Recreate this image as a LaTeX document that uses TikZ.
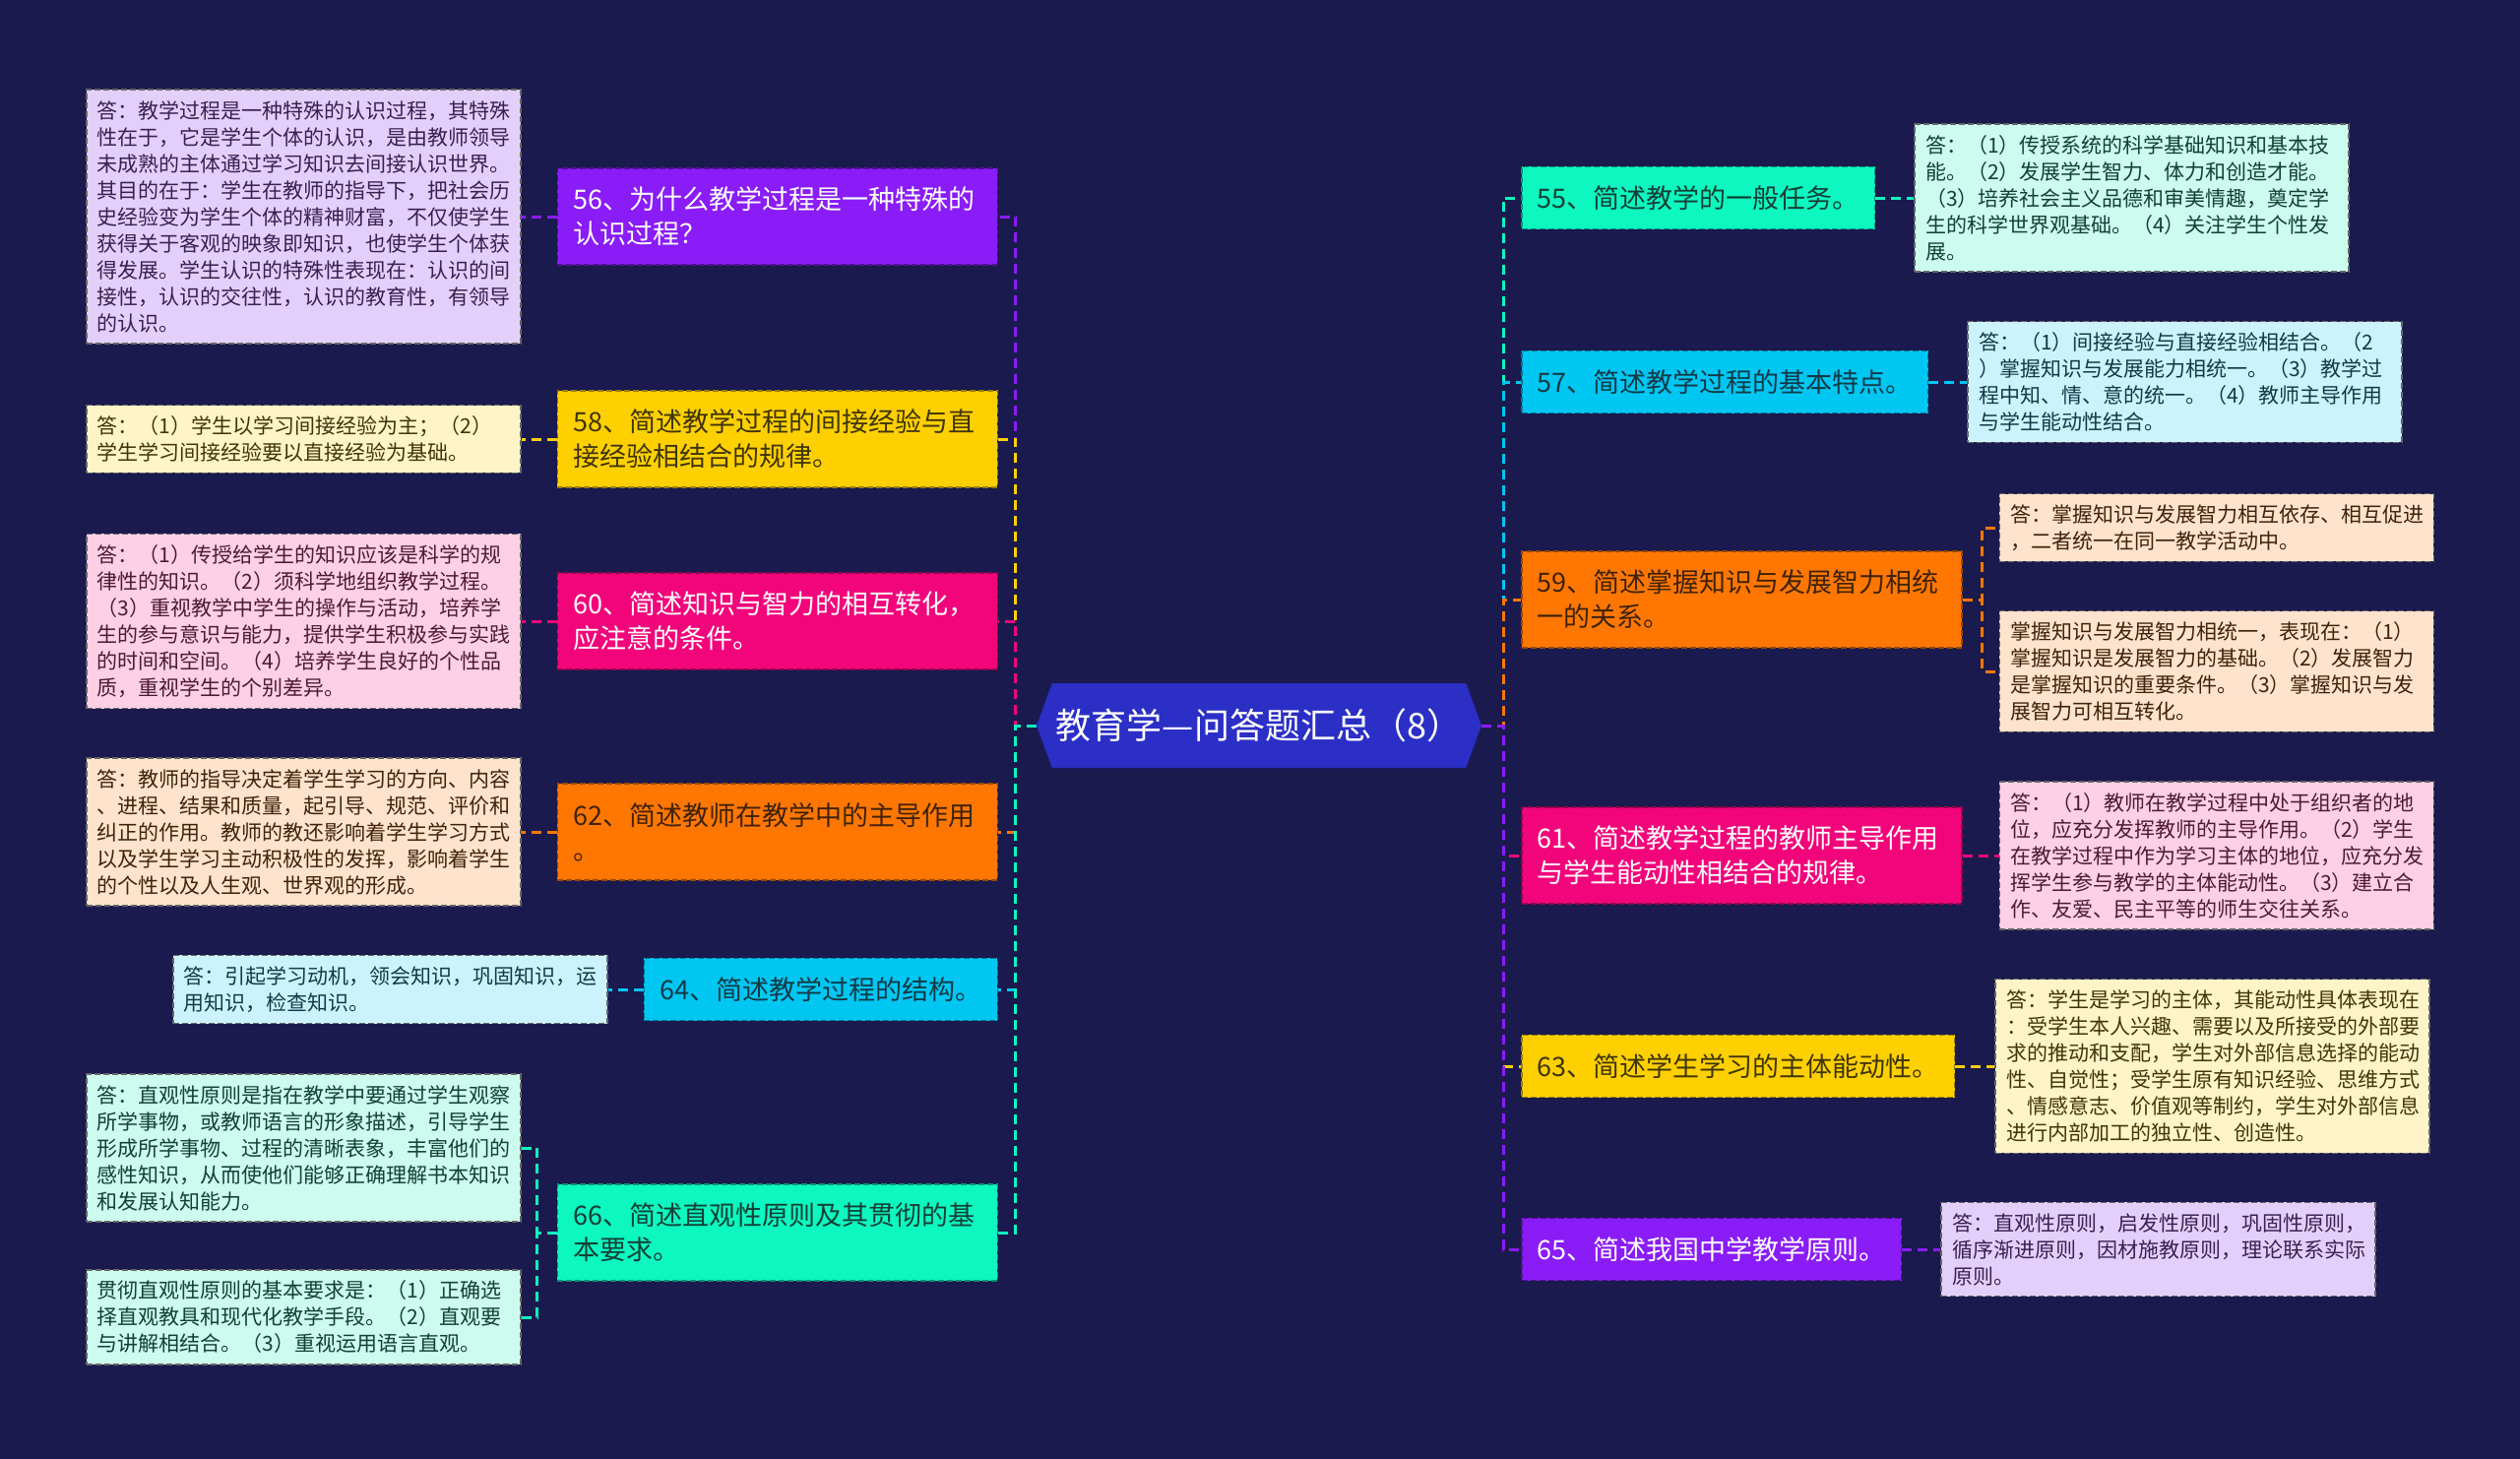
\documentclass[tikz,border=0pt]{standalone}
\usepackage{fontspec}
\setmainfont{Noto Sans CJK SC}
\usetikzlibrary{positioning,shapes.symbols}

\begin{document}
\begin{tikzpicture}[x=1pt, y=-1pt,
    qbox/.style={draw, dash pattern=on 6pt off 3pt, line width=1.5pt, inner xsep=16pt, inner ysep=19pt,
                 align=left, font=\fontsize{27}{35}\selectfont},
    qwide/.style={qbox, text width=415pt},
    abox/.style={draw=black!60, dash pattern=on 6pt off 3pt, line width=1.5pt, inner xsep=11pt, inner ysep=11pt,
                 text width=419pt, align=left, font=\fontsize{21}{27}\selectfont},
    link/.style={dash pattern=on 10pt off 6pt, line width=3pt},
    qPur/.style={fill=cPur, draw=cPur!60!black, text=white},
    qYel/.style={fill=cYel, draw=cYel!60!black, text=cYelT},
    qPin/.style={fill=cPin, draw=cPin!60!black, text=white},
    qOra/.style={fill=cOra, draw=cOra!60!black, text=cOraT},
    qCya/.style={fill=cCya, draw=cCya!60!black, text=cCyaT},
    qMin/.style={fill=cMin, draw=cMin!60!black, text=cMinT},
    aPur/.style={fill=cPurL, text=cPurT},
    aYel/.style={fill=cYelL, text=cYelT},
    aPin/.style={fill=cPinL, text=cPinT},
    aOra/.style={fill=cOraL, text=cOraT},
    aCya/.style={fill=cCyaL, text=cCyaT},
    aMin/.style={fill=cMinL, text=cMinT},
  ]
  \definecolor{bg}{HTML}{1B1A4E}\definecolor{cTitle}{HTML}{2B2FC6}
  \definecolor{cPur}{HTML}{8A1CF7}\definecolor{cPurL}{HTML}{E3D0FA}\definecolor{cPurT}{HTML}{3A1F50}
  \definecolor{cYel}{HTML}{FFD000}\definecolor{cYelL}{HTML}{FFF4C8}\definecolor{cYelT}{HTML}{3F3508}
  \definecolor{cPin}{HTML}{F2057A}\definecolor{cPinL}{HTML}{FDD0E5}\definecolor{cPinT}{HTML}{4D1A33}
  \definecolor{cOra}{HTML}{FF7700}\definecolor{cOraL}{HTML}{FFE3CC}\definecolor{cOraT}{HTML}{3F220A}
  \definecolor{cCya}{HTML}{00C6F2}\definecolor{cCyaL}{HTML}{CCF2FD}\definecolor{cCyaT}{HTML}{123A46}
  \definecolor{cMin}{HTML}{0DF7C0}\definecolor{cMinL}{HTML}{CCFCEE}\definecolor{cMinT}{HTML}{133F36}

  \useasboundingbox (0,0) rectangle (2560,1481);
  \fill[bg] (-10,-10) rectangle (2570,1491);

  \node[shape=signal, signal to=west and east, signal pointer angle=140, fill=cTitle, draw=cTitle!70!black,
        text=white, minimum width=452pt, minimum height=86pt, inner sep=0pt,
        font=\fontsize{36}{42}\selectfont] (root) at (1279,737) {教育学—问答题汇总（8）};

  % left side
  \node[qwide, qPur, anchor=east] (q56) at (1014,220) {56、为什么教学过程是一种特殊的\\认识过程？};
  \node[qwide, qYel, anchor=east] (q58) at (1014,446) {58、简述教学过程的间接经验与直\\接经验相结合的规律。};
  \node[qwide, qPin, anchor=east] (q60) at (1014,631) {60、简述知识与智力的相互转化，\\应注意的条件。};
  \node[qwide, qOra, anchor=east] (q62) at (1014,845) {62、简述教师在教学中的主导作用\\。};
  \node[qbox, qCya, anchor=east] (q64) at (1014,1005) {64、简述教学过程的结构。};
  \node[qwide, qMin, anchor=east] (q66) at (1014,1252) {66、简述直观性原则及其贯彻的基\\本要求。};

  \node[abox, aPur, left=36pt of q56] (a56) {答：教学过程是一种特殊的认识过程，其特殊\\性在于，它是学生个体的认识，是由教师领导\\未成熟的主体通过学习知识去间接认识世界。\\其目的在于：学生在教师的指导下，把社会历\\史经验变为学生个体的精神财富，不仅使学生\\获得关于客观的映象即知识，也使学生个体获\\得发展。学生认识的特殊性表现在：认识的间\\接性，认识的交往性，认识的教育性，有领导\\的认识。};
  \node[abox, aYel, left=36pt of q58] (a58) {答：（1）学生以学习间接经验为主；（2）\\学生学习间接经验要以直接经验为基础。};
  \node[abox, aPin, left=36pt of q60] (a60) {答：（1）传授给学生的知识应该是科学的规\\律性的知识。（2）须科学地组织教学过程。\\（3）重视教学中学生的操作与活动，培养学\\生的参与意识与能力，提供学生积极参与实践\\的时间和空间。（4）培养学生良好的个性品\\质，重视学生的个别差异。};
  \node[abox, aOra, left=36pt of q62] (a62) {答：教师的指导决定着学生学习的方向、内容\\、进程、结果和质量，起引导、规范、评价和\\纠正的作用。教师的教还影响着学生学习方式\\以及学生学习主动积极性的发挥，影响着学生\\的个性以及人生观、世界观的形成。};
  \node[abox, aCya, left=36pt of q64] (a64) {答：引起学习动机，领会知识，巩固知识，运\\用知识，检查知识。};
  \node[abox, aMin, left=36pt of q66, yshift=86pt] (a66a) {答：直观性原则是指在教学中要通过学生观察\\所学事物，或教师语言的形象描述，引导学生\\形成所学事物、过程的清晰表象，丰富他们的\\感性知识，从而使他们能够正确理解书本知识\\和发展认知能力。};
  \node[abox, aMin, left=36pt of q66, yshift=-86pt] (a66b) {贯彻直观性原则的基本要求是：（1）正确选\\择直观教具和现代化教学手段。（2）直观要\\与讲解相结合。（3）重视运用语言直观。};

  % right side
  \node[qbox, qMin, anchor=west] (q55) at (1545,201) {55、简述教学的一般任务。};
  \node[qbox, qCya, anchor=west] (q57) at (1545,388) {57、简述教学过程的基本特点。};
  \node[qwide, qOra, anchor=west] (q59) at (1545,609) {59、简述掌握知识与发展智力相统\\一的关系。};
  \node[qwide, qPin, anchor=west] (q61) at (1545,869) {61、简述教学过程的教师主导作用\\与学生能动性相结合的规律。};
  \node[qbox, qYel, anchor=west] (q63) at (1545,1083) {63、简述学生学习的主体能动性。};
  \node[qbox, qPur, anchor=west] (q65) at (1545,1269) {65、简述我国中学教学原则。};

  \node[abox, aMin, right=39pt of q55] (a55) {答：（1）传授系统的科学基础知识和基本技\\能。（2）发展学生智力、体力和创造才能。\\（3）培养社会主义品德和审美情趣，奠定学\\生的科学世界观基础。（4）关注学生个性发\\展。};
  \node[abox, aCya, right=39pt of q57] (a57) {答：（1）间接经验与直接经验相结合。（2\\）掌握知识与发展能力相统一。（3）教学过\\程中知、情、意的统一。（4）教师主导作用\\与学生能动性结合。};
  \node[abox, aOra, right=37pt of q59, yshift=73pt] (a59a) {答：掌握知识与发展智力相互依存、相互促进\\，二者统一在同一教学活动中。};
  \node[abox, aOra, right=37pt of q59, yshift=-73pt] (a59b) {掌握知识与发展智力相统一，表现在：（1）\\掌握知识是发展智力的基础。（2）发展智力\\是掌握知识的重要条件。（3）掌握知识与发\\展智力可相互转化。};
  \node[abox, aPin, right=37pt of q61] (a61) {答：（1）教师在教学过程中处于组织者的地\\位，应充分发挥教师的主导作用。（2）学生\\在教学过程中作为学习主体的地位，应充分发\\挥学生参与教学的主体能动性。（3）建立合\\作、友爱、民主平等的师生交往关系。};
  \node[abox, aYel, right=40pt of q63] (a63) {答：学生是学习的主体，其能动性具体表现在\\：受学生本人兴趣、需要以及所接受的外部要\\求的推动和支配，学生对外部信息选择的能动\\性、自觉性；受学生原有知识经验、思维方式\\、情感意志、价值观等制约，学生对外部信息\\进行内部加工的独立性、创造性。};
  \node[abox, aPur, right=39pt of q65] (a65) {答：直观性原则，启发性原则，巩固性原则，\\循序渐进原则，因材施教原则，理论联系实际\\原则。};

  \foreach \q/\c in {q56/cPur, q58/cYel, q60/cPin, q62/cOra, q64/cCya, q66/cMin}
    \draw[link, \c] (root.west) -- ++(-21,0) |- (\q.east);
  \foreach \q/\c in {q55/cMin, q57/cCya, q59/cOra, q61/cPin, q63/cYel, q65/cPur}
    \draw[link, \c] (root.east) -- ++(22,0) |- (\q.west);

  \foreach \q/\a/\c in {q56/a56/cPur, q58/a58/cYel, q60/a60/cPin, q62/a62/cOra, q64/a64/cCya}
    \draw[link, \c] (\q.west) -- (\a.east);
  \draw[link, cMin] (q66.west) -- ++(-20,0) |- (a66a.east);
  \draw[link, cMin] (q66.west) -- ++(-20,0) |- (a66b.east);

  \foreach \q/\a/\c in {q55/a55/cMin, q57/a57/cCya, q61/a61/cPin, q63/a63/cYel, q65/a65/cPur}
    \draw[link, \c] (\q.east) -- (\a.west);
  \draw[link, cOra] (q59.east) -- ++(20,0) |- (a59a.west);
  \draw[link, cOra] (q59.east) -- ++(20,0) |- (a59b.west);
\end{tikzpicture}
\end{document}
